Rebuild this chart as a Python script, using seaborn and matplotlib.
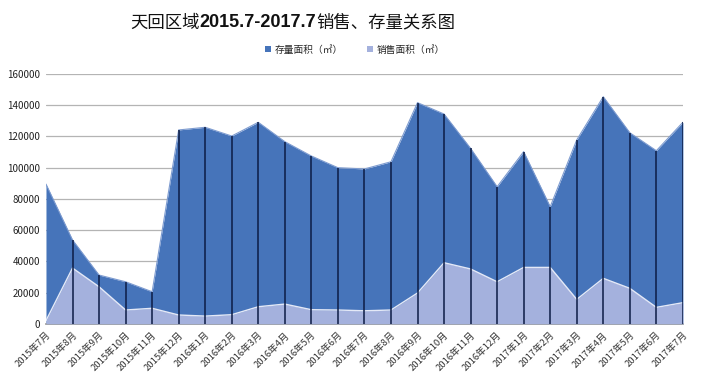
import numpy as np
import pandas as pd
import matplotlib
matplotlib.use("Agg")
import matplotlib.pyplot as plt
import seaborn as sns

# data
months = ["2015年7月", "2015年8月", "2015年9月", "2015年10月", "2015年11月", "2015年12月",
          "2016年1月", "2016年2月", "2016年3月", "2016年4月", "2016年5月", "2016年6月",
          "2016年7月", "2016年8月", "2016年9月", "2016年10月", "2016年11月", "2016年12月",
          "2017年1月", "2017年2月", "2017年3月", "2017年4月", "2017年5月", "2017年6月",
          "2017年7月"]
stock = [89500, 53700, 31200, 26900, 20500, 124200, 125900, 120300, 129100, 116700,
         107500, 100000, 99200, 103800, 141700, 134400, 112400, 87800, 110300, 75000,
         117800, 145500, 122400, 110900, 129100]
sales = [2000, 35700, 23700, 8800, 9900, 5600, 4900, 5800, 10900, 12600, 9000, 8800,
         8300, 8800, 19700, 39100, 35100, 26900, 36100, 36100, 15600, 29100, 22700,
         10500, 13500]
yticks = [0, 20000, 40000, 60000, 80000, 100000, 120000, 140000, 160000]

df = pd.DataFrame({"month": months, "stock": stock, "sales": sales})
df["pos"] = range(len(df))

sns.set_theme(style="white")
plt.rcParams["font.family"] = ["Noto Sans CJK SC", "DejaVu Sans"]

dark = "#4674ba"
light = "#a4b1dd"

fig = plt.figure(figsize=(7.03, 3.76), dpi=100)
ax = fig.add_axes([0.0654, 0.139, 0.906, 0.664])

for y in yticks[1:]:
    ax.axhline(y, color="#b4b4b4", lw=0.9, zorder=0)

ax.fill_between(df["pos"], df["stock"], color=dark, lw=0, zorder=1, label="存量面积（㎡）")
sns.lineplot(data=df, x="pos", y="stock", color="#7d9bd0", lw=0.8, ax=ax, zorder=2,
             legend=False)
ax.fill_between(df["pos"], df["sales"], color=light, lw=0, zorder=3, label="销售面积（㎡）")
sns.lineplot(data=df, x="pos", y="sales", color="#e4e9f7", lw=1.0, ax=ax, zorder=4,
             legend=False)
ax.vlines(df["pos"][1:], 0, df["stock"][1:], color="#0c1c45", lw=1.1, zorder=5)

ax.set_xlim(0, len(df) - 1)
ax.set_ylim(0, 160000)
ax.set_yticks(yticks)
ax.set_yticklabels([str(v) for v in yticks], fontsize=7, color="#222222")
ax.set_xticks(df["pos"])
ax.set_xticklabels(months, rotation=45, ha="right", rotation_mode="anchor",
                   fontsize=6.8, color="#333333")
ax.tick_params(axis="x", length=3, color="#999999", pad=2)
ax.tick_params(axis="y", length=0, pad=4)
ax.set_xlabel("")
ax.set_ylabel("")
for s in ["top", "right", "left"]:
    ax.spines[s].set_visible(False)
ax.spines["bottom"].set_color("#999999")

handles, labels = ax.get_legend_handles_labels()
if ax.get_legend() is not None:
    ax.get_legend().remove()

# title: Chinese text regular, the date range in bold
fs = 12.5
t1 = fig.text(0.185, 0.94, "天回区域", fontsize=fs, color="#111111", ha="left", va="center")
fig.canvas.draw()
r = fig.canvas.get_renderer()
bb = t1.get_window_extent(r)
t2 = fig.text(bb.x1 / fig.bbox.width, 0.94, "2015.7-2017.7", fontsize=fs + 0.5, weight="bold",
              color="#111111", ha="left", va="center", family="Liberation Sans")
bb2 = t2.get_window_extent(r)
fig.text(bb2.x1 / fig.bbox.width, 0.94, "销售、存量关系图", fontsize=fs, color="#111111",
         ha="left", va="center")

fig.legend(handles, labels, loc="center", bbox_to_anchor=(0.505, 0.868), ncol=2,
           frameon=False, fontsize=7, handlelength=0.6, handleheight=0.6,
           columnspacing=2.5, handletextpad=0.4)

fig.savefig("out.png", dpi=100)
